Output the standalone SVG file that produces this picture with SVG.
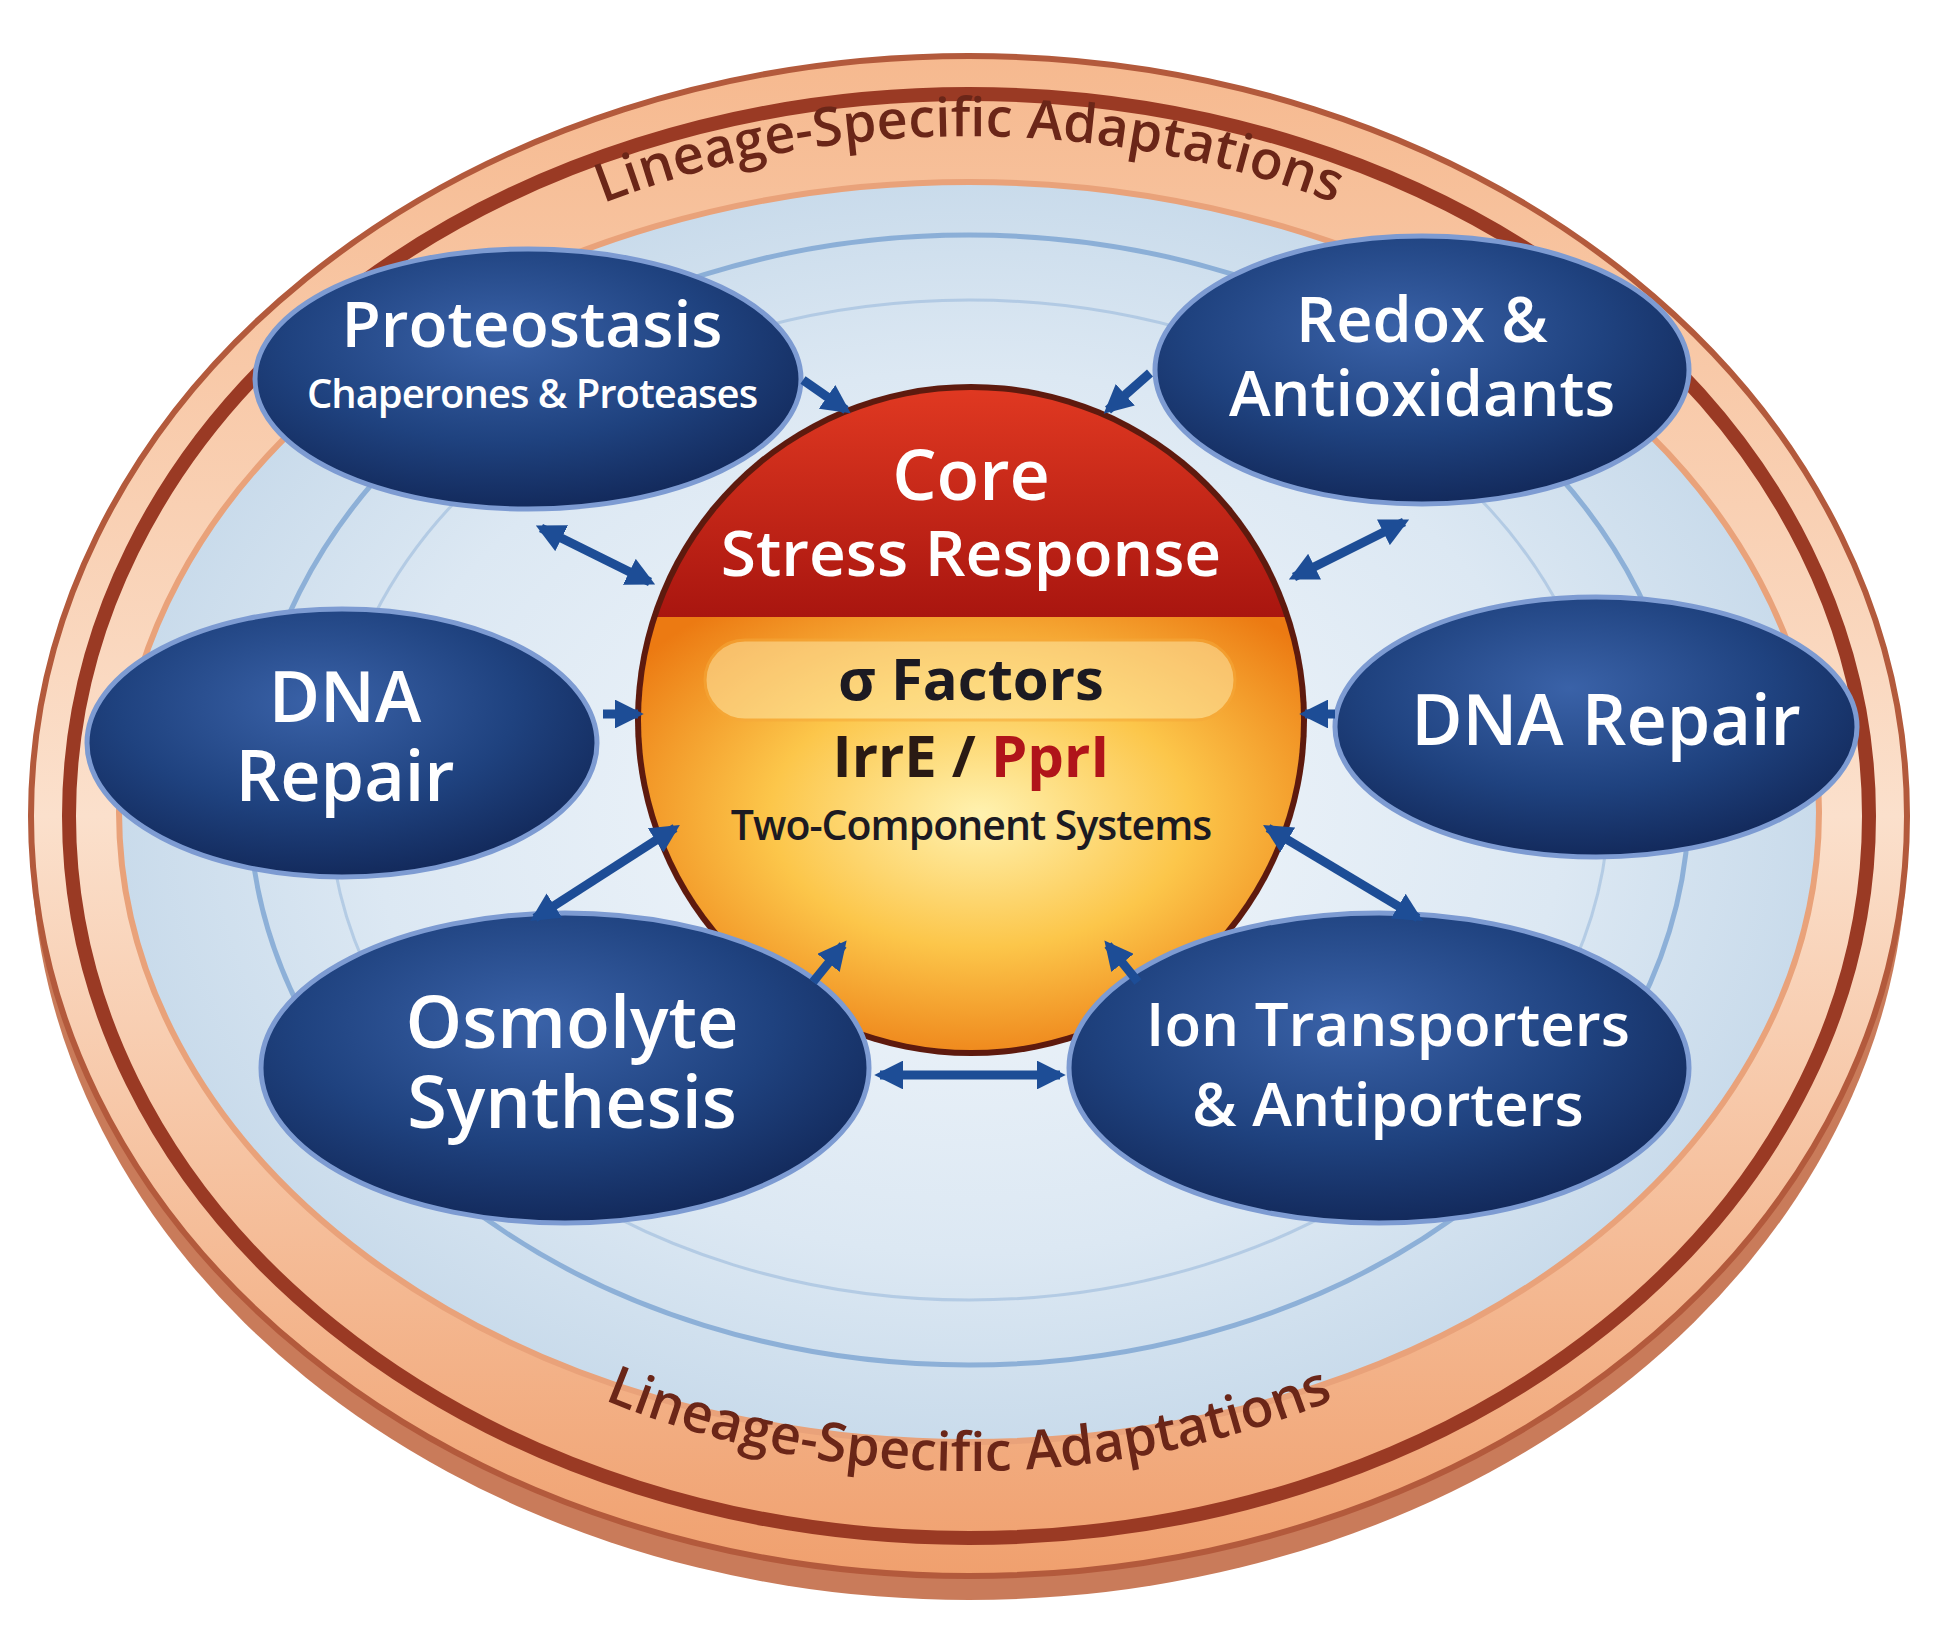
<svg xmlns="http://www.w3.org/2000/svg" width="1938" height="1625" viewBox="0 0 1938 1625">
<defs>
<radialGradient id="bg" cx="50%" cy="50%" r="50%"><stop offset="0" stop-color="#f4f8fc"/><stop offset="0.7" stop-color="#dce8f3"/><stop offset="1" stop-color="#c9dbeb"/></radialGradient>
<linearGradient id="band" x1="0" y1="0" x2="0" y2="1"><stop offset="0" stop-color="#f6b98f"/><stop offset="0.5" stop-color="#fbe0cc"/><stop offset="1" stop-color="#f0a06e"/></linearGradient>
<radialGradient id="node" cx="45%" cy="35%" r="65%"><stop offset="0" stop-color="#3a62a8"/><stop offset="0.6" stop-color="#1f427f"/><stop offset="1" stop-color="#132a5c"/></radialGradient>
<linearGradient id="red" x1="0" y1="0" x2="0" y2="1"><stop offset="0" stop-color="#e23a22"/><stop offset="1" stop-color="#a8150f"/></linearGradient>
<radialGradient id="yel" cx="50%" cy="45%" r="60%"><stop offset="0" stop-color="#fff2b0"/><stop offset="0.5" stop-color="#fcc64a"/><stop offset="1" stop-color="#ec7a12"/></radialGradient>
<clipPath id="cc"><circle cx="971" cy="720" r="330"/></clipPath>
<marker id="ah" viewBox="0 0 10 10" refX="8" refY="5" markerWidth="3.2" markerHeight="3.2" orient="auto-start-reverse"><path d="M0,0 L10,5 L0,10 z" fill="#1d4d96"/></marker>
<path id="topArc" d="M124,816 A845,680 0 0 1 1814,816"/>
<path id="botArc" d="M164,816 A805,655 0 0 0 1774,816"/>
</defs>
<style>
.n{fill:url(#node);stroke:#7d9bd2;stroke-width:5}
.t{font-family:"Open Sans","Liberation Sans",sans-serif;font-weight:600;fill:#fff;text-anchor:middle}
.c{stroke:#1d4d96;stroke-width:9;fill:none;marker-end:url(#ah)}
.d{marker-start:url(#ah)}
.arc{font-family:"Open Sans","Liberation Sans",sans-serif;font-weight:600;font-size:54px;fill:#6b2618}
</style>
<rect width="1938" height="1625" fill="#ffffff"/>
<g id="disc">
<ellipse cx="969" cy="840" rx="938" ry="760" fill="#c97b5a"/>
<ellipse cx="969" cy="816" rx="938" ry="760" fill="url(#band)" stroke="#b35a3c" stroke-width="6"/>
<ellipse cx="969" cy="816" rx="900" ry="722" fill="none" stroke="#9a3a24" stroke-width="14"/>
<ellipse cx="969" cy="812" rx="850" ry="630" fill="url(#bg)" stroke="#e9a27a" stroke-width="6"/>
<ellipse cx="969" cy="800" rx="720" ry="565" fill="none" stroke="#5f8fc8" stroke-width="5" opacity="0.6"/>
<ellipse cx="969" cy="800" rx="640" ry="500" fill="none" stroke="#8fb2d8" stroke-width="3" opacity="0.5"/>
<text class="arc"><textPath href="#topArc" startOffset="50%" text-anchor="middle">Lineage-Specific Adaptations</textPath></text>
<text class="arc" fill="#7a2c18"><textPath href="#botArc" startOffset="50%" text-anchor="middle">Lineage-Specific Adaptations</textPath></text>
</g>
<g id="core">
<circle cx="971" cy="720" r="336" fill="#5e1a0e"/>
<g clip-path="url(#cc)">
<rect x="630" y="380" width="700" height="240" fill="url(#red)"/>
<rect x="630" y="617" width="700" height="440" fill="url(#yel)"/>
</g>
<rect x="705" y="640" width="530" height="80" rx="40" fill="#ffe9a8" opacity="0.55" stroke="#f6a93a" stroke-width="3"/>
<text class="t" x="971" y="500" font-size="70">Core</text>
<text class="t" x="971" y="576" font-size="64">Stress Response</text>
<text x="971" y="700" font-family="'Open Sans','Liberation Sans',sans-serif" font-weight="700" font-size="58" fill="#1c1a22" text-anchor="middle">σ Factors</text>
<text x="971" y="777" font-family="'Open Sans','Liberation Sans',sans-serif" font-weight="700" font-size="58" fill="#2a1a14" text-anchor="middle">IrrE / <tspan fill="#b0141a">PprI</tspan></text>
<text x="971" y="840" font-family="'Open Sans','Liberation Sans',sans-serif" font-weight="600" font-size="41" fill="#1c1a22" text-anchor="middle" letter-spacing="-1">Two-Component Systems</text>
</g>
<g id="proteostasis">
<ellipse class="n" cx="528" cy="379" rx="273" ry="130"/>
<text class="t" x="532" y="347" font-size="64">Proteostasis</text>
<text class="t" x="532" y="408" font-size="40" font-weight="400" letter-spacing="-1">Chaperones &amp; Proteases</text>
</g>
<g id="redox">
<ellipse class="n" cx="1422" cy="370" rx="267" ry="134"/>
<text class="t" x="1422" y="342" font-size="63">Redox &amp;</text>
<text class="t" x="1422" y="416" font-size="63">Antioxidants</text>
</g>
<g id="dna-left">
<ellipse class="n" cx="342" cy="743" rx="255" ry="134"/>
<text class="t" x="345" y="722" font-size="70">DNA</text>
<text class="t" x="345" y="801" font-size="70">Repair</text>
</g>
<g id="dna-right">
<ellipse class="n" cx="1596" cy="727" rx="261" ry="130"/>
<text class="t" x="1606" y="745" font-size="70">DNA Repair</text>
</g>
<g id="osmolyte">
<ellipse class="n" cx="565" cy="1068" rx="304" ry="155"/>
<text class="t" x="572" y="1048" font-size="72">Osmolyte</text>
<text class="t" x="572" y="1128" font-size="72">Synthesis</text>
</g>
<g id="ion">
<ellipse class="n" cx="1379" cy="1068" rx="310" ry="155"/>
<text class="t" x="1388" y="1046" font-size="60">Ion Transporters</text>
<text class="t" x="1388" y="1126" font-size="60">&amp; Antiporters</text>
</g>
<g id="connectors">
<path class="c" d="M803,380 L846,410"/>
<path class="c" d="M1150,373 L1108,410"/>
<path class="c d" d="M541,528 L650,582"/>
<path class="c d" d="M1404,522 L1294,577"/>
<path class="c" d="M603,714 L638,714"/>
<path class="c" d="M1335,714 L1305,714"/>
<path class="c d" d="M535,918 L675,828"/>
<path class="c d" d="M1418,918 L1268,828"/>
<path class="c" d="M813,982 L843,945"/>
<path class="c" d="M1138,982 L1108,945"/>
<path class="c d" d="M880,1075 L1060,1075"/>
</g>
</svg>
